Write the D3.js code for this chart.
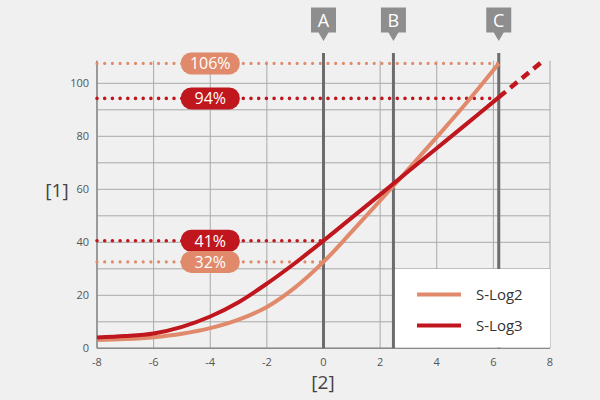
<!DOCTYPE html>
<html>
<head>
<meta charset="utf-8">
<script src="https://cdn.jsdelivr.net/npm/d3@7"></script>
<style>
  body { margin: 0; background: #f0f0f0; }
  svg { display: block; font-family: "Open Sans", sans-serif; }
</style>
</head>
<body>
<div class="plot"></div>
<script>
// stops relative to middle grey -> video level (%)
var stops = [-8, -7, -6, -5, -4, -3, -2, -1, 0, 1, 2, 3, 4, 5, 6.19];
var slog2 = [3.1, 3.5, 4.2, 5.5, 7.6, 10.8, 15.6, 23, 32.6, 44, 55.7, 67.6, 79.7, 92, 107.5];
var slog3 = [4.1, 4.6, 5.6, 8.1, 12, 17.4, 24.4, 32.2, 40.6, 49.3, 58, 66.8, 75.5, 84.2, 94.7];
var slog3ExtStops = [6.19, 7.75];
var slog3Ext = [94.7, 108.4];

var markerNames = ["A", "B", "C"];
var markerStops = [0, 2.47, 6.19];

var refLabels = ["106%", "94%", "41%", "32%"];
var refValues = [107.5, 94.3, 40.6, 32.6];
var refEnds = [6.19, 6.19, 0, 0];
var refSeries = ["S-Log2", "S-Log3", "S-Log3", "S-Log2"];

var seriesNames = ["S-Log2", "S-Log3"];
var xTicks = [-8, -6, -4, -2, 0, 2, 4, 6, 8];
var yTicks = [0, 20, 40, 60, 80, 100];

var colors = { "S-Log2": "#e08a6b", "S-Log3": "#c0161e" };

var svg = d3.select(".plot").append("svg")
  .attr("width", 600)
  .attr("height", 400);

svg.append("rect").attr("width", 600).attr("height", 400).attr("fill", "#f0f0f0");

var x = d3.scaleLinear().domain([-8, 8]).range([97, 550]);
var y = d3.scaleLinear().domain([0, 100]).range([348.3, 83.3]);
var yTop = y(108.5);

// grid
var grid = svg.append("g");
grid.selectAll(".hg")
  .data(d3.range(0, 101, 10))
  .enter().append("line")
  .attr("x1", x(-8)).attr("x2", x(8))
  .attr("y1", function(d) { return y(d); })
  .attr("y2", function(d) { return y(d); })
  .attr("stroke", "#a9a9a9")
  .attr("stroke-width", 1);
grid.selectAll(".vg")
  .data(xTicks)
  .enter().append("line")
  .attr("x1", function(d) { return x(d); })
  .attr("x2", function(d) { return x(d); })
  .attr("y1", yTop).attr("y2", y(0))
  .attr("stroke", "#a9a9a9")
  .attr("stroke-width", 1);
// axes
svg.append("line").attr("x1", x(-8)).attr("x2", x(-8)).attr("y1", yTop).attr("y2", y(0))
  .attr("stroke", "#8a8a8a").attr("stroke-width", 1.5);
svg.append("line").attr("x1", x(-8)).attr("x2", x(8)).attr("y1", y(0)).attr("y2", y(0))
  .attr("stroke", "#8a8a8a").attr("stroke-width", 1.5);

// tick labels
svg.selectAll(".yt")
  .data(yTicks)
  .enter().append("text")
  .attr("x", 89)
  .attr("y", function(d) { return y(d) + 4; })
  .attr("text-anchor", "end")
  .attr("font-size", 11)
  .attr("fill", "#555")
  .text(function(d) { return d; });
svg.selectAll(".xt")
  .data(xTicks)
  .enter().append("text")
  .attr("x", function(d) { return x(d); })
  .attr("y", 366)
  .attr("text-anchor", "middle")
  .attr("font-size", 11)
  .attr("fill", "#555")
  .text(function(d) { return d; });

svg.append("text").attr("x", 57).attr("y", 197).attr("text-anchor", "middle")
  .attr("font-size", 19).attr("fill", "#444").text("[1]");
svg.append("text").attr("x", 323).attr("y", 389).attr("text-anchor", "middle")
  .attr("font-size", 19).attr("fill", "#444").text("[2]");

// marker lines A B C
svg.selectAll(".ml")
  .data(markerStops)
  .enter().append("line")
  .attr("x1", function(d) { return x(d); })
  .attr("x2", function(d) { return x(d); })
  .attr("y1", 53).attr("y2", y(0))
  .attr("stroke", "#6c6c6c")
  .attr("stroke-width", 3);

var marker = svg.selectAll(".mk")
  .data(markerNames)
  .enter().append("g")
  .attr("transform", function(d, i) { return "translate(" + x(markerStops[i]) + ",0)"; });
marker.append("path")
  .attr("d", "M-12.5,7.5 H12.5 V32.5 H5 L0,41 L-5,32.5 H-12.5 Z")
  .attr("fill", "#8e8e8e");
marker.append("text")
  .attr("y", 27)
  .attr("text-anchor", "middle")
  .attr("font-size", 18)
  .attr("fill", "#fff")
  .text(function(d) { return d; });

// dotted reference lines
svg.selectAll(".ref")
  .data(refValues)
  .enter().append("line")
  .attr("x1", x(-8))
  .attr("x2", function(d, i) { return x(refEnds[i]); })
  .attr("y1", function(d) { return y(d); })
  .attr("y2", function(d) { return y(d); })
  .attr("stroke", function(d, i) { return colors[refSeries[i]]; })
  .attr("stroke-width", function(d, i) { return refSeries[i] === "S-Log3" ? 3.6 : 3.2; })
  .attr("stroke-linecap", "round")
  .attr("stroke-dasharray", "0 7.7");

// curves
var line = d3.line()
  .x(function(d) { return x(d[0]); })
  .y(function(d) { return y(d[1]); })
  .curve(d3.curveCatmullRom.alpha(0.5));

svg.append("path")
  .datum(d3.zip(stops, slog2))
  .attr("d", line)
  .attr("fill", "none")
  .attr("stroke", colors["S-Log2"])
  .attr("stroke-width", 4);
svg.append("path")
  .datum(d3.zip(stops, slog3))
  .attr("d", line)
  .attr("fill", "none")
  .attr("stroke", colors["S-Log3"])
  .attr("stroke-width", 4);
svg.append("path")
  .datum(d3.zip(slog3ExtStops, slog3Ext))
  .attr("d", line)
  .attr("fill", "none")
  .attr("stroke", colors["S-Log3"])
  .attr("stroke-width", 4.5)
  .attr("stroke-dasharray", "9 6");

// pills
var pill = svg.selectAll(".pill")
  .data(refLabels)
  .enter().append("g")
  .attr("transform", function(d, i) { return "translate(" + x(-4) + "," + y(refValues[i]) + ")"; });
pill.append("rect")
  .attr("x", -29.5).attr("y", -11)
  .attr("width", 59).attr("height", 22)
  .attr("rx", 10.5)
  .attr("fill", function(d, i) { return colors[refSeries[i]]; });
pill.append("text")
  .attr("y", 6)
  .attr("text-anchor", "middle")
  .attr("font-size", 16)
  .attr("fill", "#fff")
  .text(function(d) { return d; });

// legend
var legend = svg.append("g");
legend.append("rect")
  .attr("x", 395).attr("y", 269)
  .attr("width", x(8) - 395).attr("height", y(0) - 269.8)
  .attr("fill", "#fff");
legend.selectAll(".li")
  .data(seriesNames)
  .enter().append("line")
  .attr("x1", 417).attr("x2", 461)
  .attr("y1", function(d, i) { return 294.5 + 31 * i; })
  .attr("y2", function(d, i) { return 294.5 + 31 * i; })
  .attr("stroke", function(d) { return colors[d]; })
  .attr("stroke-width", 4);
legend.selectAll(".lt")
  .data(seriesNames)
  .enter().append("text")
  .attr("x", 476)
  .attr("y", function(d, i) { return 300 + 31 * i; })
  .attr("font-size", 15)
  .attr("fill", "#333")
  .text(function(d) { return d; });
</script>
</body>
</html>
